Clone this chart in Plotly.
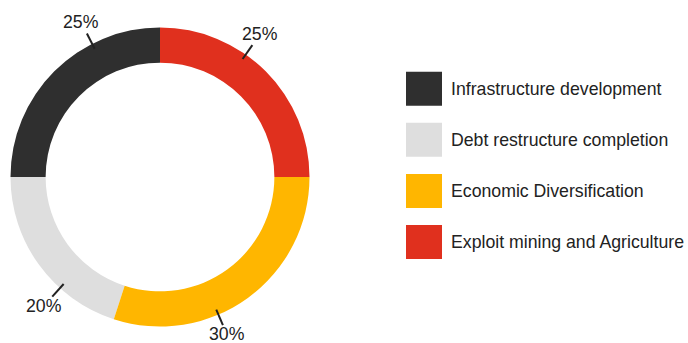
import math
import plotly.graph_objects as go

# Strategy priorities (legend order)
categories = [
    "Infrastructure development",
    "Debt restructure completion",
    "Economic Diversification",
    "Exploit mining and Agriculture",
]
values = [25, 20, 30, 25]
colors = ["#2f2f2f", "#dedede", "#ffb600", "#e0301e"]

# Label placement tweaks (degrees added to each slice's mid-angle)
label_shift = [18, -12, 13, -10]

W, H = 688, 343
CX, CY, R = 160, 177, 149.5
HOLE = 0.765
FONT = dict(family="Liberation Sans, Arial, sans-serif", size=17.7, color="#222222")


def px(x):
    return x / W


def py(y):
    return 1 - y / H


fig = go.Figure(
    go.Pie(
        labels=categories,
        values=values,
        marker=dict(colors=colors, line=dict(width=0)),
        hole=HOLE,
        sort=False,
        direction="counterclockwise",
        rotation=-90,
        textinfo="none",
        hoverinfo="label+percent",
        showlegend=False,
        domain=dict(x=[px(CX - R), px(CX + R)], y=[py(CY + R), py(CY - R)]),
    )
)

shapes = []
annotations = []
total = sum(values)
cum = 0
for i, v in enumerate(values):
    mid = 360 - (cum + v / 2) / total * 360
    cum += v
    ang = math.radians(mid + label_shift[i])
    sx, sy = math.sin(ang), -math.cos(ang)
    r0, r1, rt = 144, 161, 174
    # labels near the bottom edge sit a little closer to the ring
    if sy > 0.8:
        rt = 171
    shapes.append(dict(
        type="line", xref="paper", yref="paper",
        x0=px(CX + r0 * sx), y0=py(CY + r0 * sy),
        x1=px(CX + r1 * sx), y1=py(CY + r1 * sy),
        line=dict(color="#222222", width=2),
    ))
    annotations.append(dict(
        xref="paper", yref="paper",
        x=px(CX + rt * sx), y=py(CY + rt * sy),
        text=f"{round(v / total * 100)}%",
        showarrow=False, xanchor="center", yanchor="middle",
        font=FONT,
    ))

# Legend: swatches with labels
LX, LY0, STEP = 406, 88.7, 51.1
for i, (name, c) in enumerate(zip(categories, colors)):
    yc = LY0 + i * STEP
    shapes.append(dict(
        type="rect", xref="paper", yref="paper",
        x0=px(LX), x1=px(LX + 36), y0=py(yc + 17), y1=py(yc - 17),
        fillcolor=c, line=dict(width=0),
    ))
    annotations.append(dict(
        xref="paper", yref="paper", x=px(449), y=py(yc),
        text=name, showarrow=False, xanchor="left", yanchor="middle",
        font=FONT,
    ))

fig.update_layout(
    width=W, height=H, autosize=False,
    margin=dict(l=0, r=0, t=0, b=0),
    paper_bgcolor="white", plot_bgcolor="white",
    shapes=shapes, annotations=annotations,
)

fig.write_html("out.html")
